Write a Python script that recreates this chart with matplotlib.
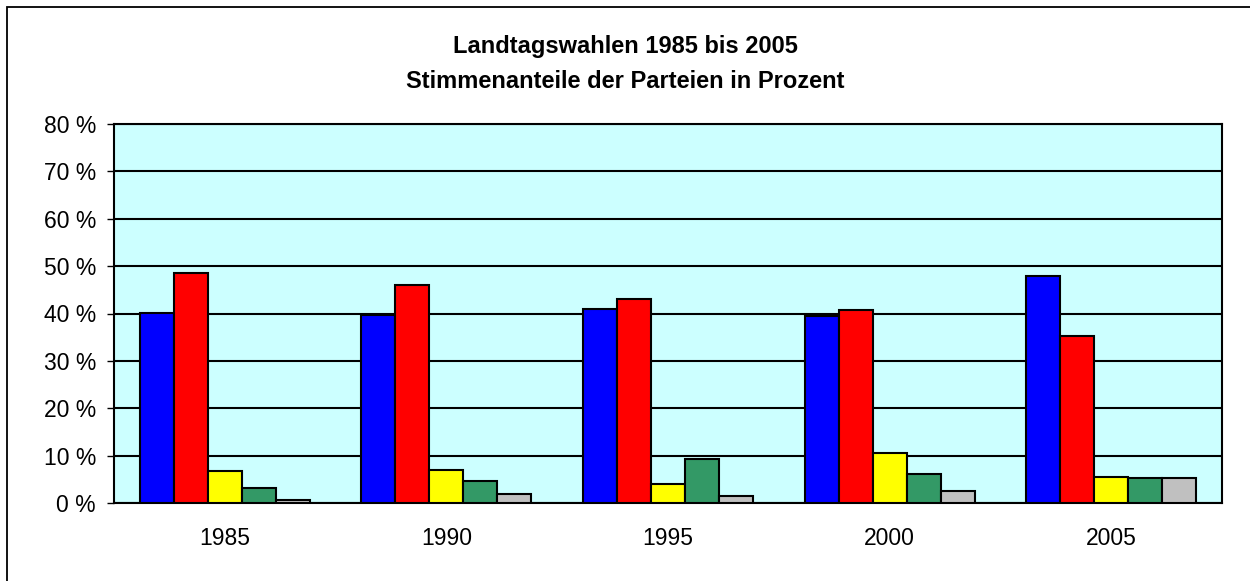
import numpy as np
import matplotlib.pyplot as plt
from matplotlib.patches import Rectangle

plt.rcParams['font.family'] = ['Liberation Sans', 'DejaVu Sans']

jahre = ["1985", "1990", "1995", "2000", "2005"]
parteien = ["Partei A", "Partei B", "Partei C", "Partei D", "Sonstige"]
anteile = {
    "Partei A": [40.1, 39.7, 40.9, 39.5, 48.0],
    "Partei B": [48.5, 46.1, 43.0, 40.7, 35.2],
    "Partei C": [6.8, 7.0, 4.0, 10.5, 5.5],
    "Partei D": [3.1, 4.6, 9.3, 6.1, 5.3],
    "Sonstige": [0.7, 1.8, 1.5, 2.5, 5.3],
}
farben = ["#0000FF", "#FF0000", "#FFFF00", "#339966", "#C0C0C0"]

fig = plt.figure(figsize=(12.5, 5.81), dpi=100)
ax = fig.add_axes([114 / 1250, 1 - 503 / 581, 1108 / 1250, 379 / 581])

# Rahmen um das ganze Diagramm (rechts/unten abgeschnitten)
fig.patches.append(Rectangle((7 / 1250, -0.1), 1.2, 1 - 7 / 581 + 0.1,
                             transform=fig.transFigure, fill=False,
                             edgecolor="black", linewidth=1.3))

x = np.arange(len(jahre))
breite = 0.767 / len(parteien)
for i, (p, f) in enumerate(zip(parteien, farben)):
    pos = x - 0.767 / 2 + breite * (i + 0.5)
    ax.bar(pos, anteile[p], width=breite, color=f, edgecolor="black",
           linewidth=1.5, zorder=3)

ax.set_facecolor("#CCFFFF")
ax.set_xlim(-0.5, len(jahre) - 0.5)
ax.set_ylim(0, 80)
ax.set_yticks(range(0, 81, 10))
ax.set_yticklabels([f"{v} %" for v in range(0, 81, 10)])
ax.set_xticks(x)
ax.set_xticklabels(jahre)
ax.tick_params(axis="x", length=0, pad=17, labelsize=16.5)
ax.tick_params(axis="y", length=5, width=1, pad=8, labelsize=16.5)
ax.grid(axis="y", color="black", linewidth=1.5, zorder=1)
for s in ax.spines.values():
    s.set_linewidth(1.5)

fig.text(0.5, 1 - 47 / 581, "Landtagswahlen 1985 bis 2005",
         ha="center", va="center", fontsize=17, fontweight="bold")
fig.text(0.5, 1 - 82 / 581, "Stimmenanteile der Parteien in Prozent",
         ha="center", va="center", fontsize=17, fontweight="bold")

fig.savefig("out.png", dpi=100)
